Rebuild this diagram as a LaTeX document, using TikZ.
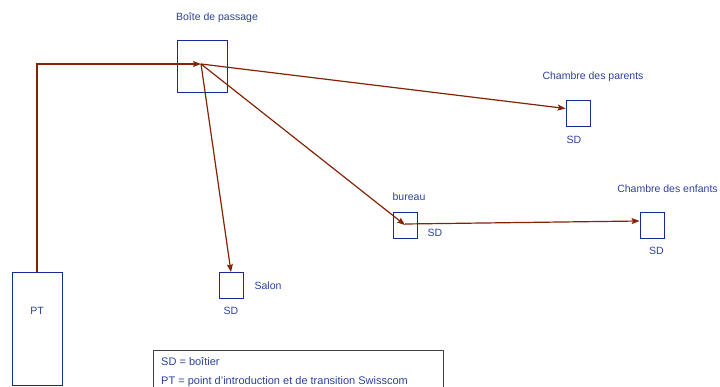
\documentclass[tikz,border=0pt]{standalone}
\usepackage{fontspec}
\setmainfont{Liberation Sans}
\usepackage{tikz}
\usetikzlibrary{arrows.meta, positioning}
\definecolor{boxblue}{RGB}{20,45,150}
\definecolor{textblue}{RGB}{45,65,155}
\definecolor{wirered}{RGB}{130,35,5}
\tikzset{
    sdbox/.style={rectangle, draw=boxblue, line width=0.8pt, minimum width=24pt, minimum height=26pt, inner sep=0pt},
    lbl/.style={inner sep=0pt, text=textblue, font=\fontsize{10.5}{12}\selectfont},
    wire/.style={-{Stealth[length=8pt, width=6pt, inset=1.5pt]}, wirered, line width=1.2pt},
}
\begin{document}
\begin{tikzpicture}[
    x=1pt, y=-1pt,
    bigbox/.style={sdbox, minimum width=50pt},
    legendbox/.style={rectangle, draw=black!75, line width=0.8pt, inner sep=0pt, minimum width=290pt, minimum height=50pt, anchor=north west},
    legendtext/.style={lbl, anchor=base west, font=\fontsize{11}{13}\selectfont}
]
\clip (0,0) rectangle (720,387);

% Boxes
\node[bigbox, minimum height=52pt] (boite) at (202,66) {};
\node[bigbox, minimum height=113pt] (pt) at (37,328.5) {};
\node[sdbox] (parents) at (578,113.5) {};
\node[sdbox] (salon) at (231,285.5) {};
\node[sdbox] (bureau) at (405,225) {};
\node[sdbox] (enfants) at (652,225) {};
\coordinate (hub) at (201,64);

% Labels
\node[lbl, above=17pt of boite, xshift=15pt] (boite-title) {Boîte de passage};
\node[lbl] (pt-text) at ([yshift=18pt]pt.center) {PT};
\node[lbl, above=18pt of parents, xshift=15pt] (parents-title) {Chambre des parents};
\node[lbl, below=9pt of parents, xshift=-4pt] (parents-sd) {SD};
\node[lbl, right=11pt of salon] (salon-title) {Salon};
\node[lbl, below=8pt of salon] (salon-sd) {SD};
\node[lbl, above=11pt of bureau, xshift=4pt] (bureau-title) {bureau};
\node[lbl, right=10pt of bureau, yshift=-7.5pt] (bureau-sd) {SD};
\node[lbl, above=19pt of enfants, xshift=15.5pt] (enfants-title) {Chambre des enfants};
\node[lbl, below=9pt of enfants, xshift=4.5pt] (enfants-sd) {SD};

% Legend
\node[legendbox] (legend) at (153,350) {};
\node[legendtext] (legend-sd) at ([xshift=8pt, yshift=-15pt]legend.north west) {SD = boîtier};
\node[legendtext] (legend-pt) at ([xshift=8pt, yshift=-34pt]legend.north west) {PT = point d’introduction et de transition Swisscom};

% Arrows
\draw[wire] (pt.north) |- (hub);
\draw[wire] (hub) -- ([yshift=5pt]parents.west);
\draw[wire] (hub) -- (salon.north);
\draw[wire] (hub) -- (bureau.center);
\draw[wire] ([yshift=1pt]bureau.center) -- ([yshift=4pt]enfants.west);

\end{tikzpicture}
\end{document}
